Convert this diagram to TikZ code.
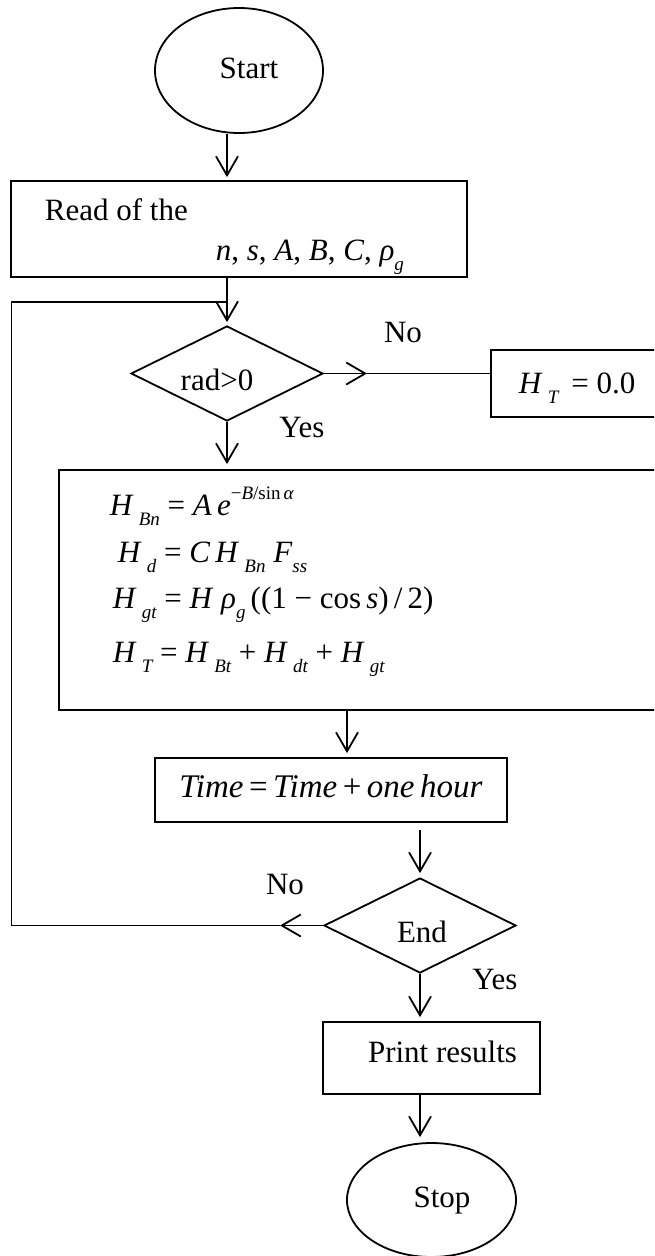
\documentclass[tikz,border=0pt]{standalone}
\usepackage{fontspec}
\setmainfont{Liberation Serif}
\usetikzlibrary{arrows.meta,shapes.geometric,calc}
\newcommand{\iv}[1]{\textit{#1}}
\newcommand{\lsub}[1]{\raisebox{-0.33em}{\fontsize{19}{19}\selectfont\itshape #1}}
\newcommand{\lsup}[1]{\raisebox{0.5em}{\fontsize{19}{19}\selectfont #1}}
\begin{document}
\begin{tikzpicture}[x=1pt,y=-1pt,line width=1.8pt,
  arr/.style={-{Straight Barb[length=19pt,width=22pt]}},
  box/.style={draw,rectangle,inner sep=0},
  oval/.style={draw,ellipse,inner sep=0},
  dia/.style={draw,diamond,aspect=2,inner sep=0,minimum width=192pt,minimum height=95pt},
  txt/.style={inner sep=0,font=\fontsize{31}{31}\selectfont},
  eq/.style={inner sep=0,anchor=base west,font=\fontsize{31}{31}\selectfont}]
\useasboundingbox (0,0) rectangle (654,1256);
\clip (0,0) rectangle (654,1256);
% shapes
\node[oval,minimum width=168pt,minimum height=125pt] (start) at (239,70.5) {};
\node[box,minimum width=456pt,minimum height=96pt] (read) at (239,229) {};
\node[dia] (rad) at (227,373.5) {};
\node[box,minimum width=209pt,minimum height=67pt] (ht) at (595.5,383.5) {};
\node[box,minimum width=641pt,minimum height=240pt] (big) at (379.5,590) {};
\node[box,minimum width=352pt,minimum height=64pt] (time) at (331,790) {};
\node[dia] (end) at (420,925.5) {};
\node[box,minimum width=217pt,minimum height=72pt] (print) at (431.5,1058) {};
\node[oval,minimum width=169pt,minimum height=114pt] (stop) at (431.5,1200) {};
% texts
\node[txt,anchor=base] (tstart) at (249,78) {Start};
\node[txt,anchor=base west] (tread) at (44,220) {Read of the};
\node[txt,anchor=base west] (tvars) at (215,260) {\iv{n}, \iv{s}, \iv{A}, \iv{B}, \iv{C}, \iv{ρ}\lsub{g}};
\node[txt,anchor=base] (trad) at (217,390) {rad>0};
\node[txt,anchor=base] (tno1) at (403,342) {No};
\node[txt,anchor=base] (tyes1) at (302,437) {Yes};
\node[eq] (tht) at (518,393) {\iv{H}\,\lsub{T}\ \,= 0.0};
\node[eq] (e1) at (109,515) {\iv{H}\,\lsub{Bn}\ = \iv{A\,e}\lsup{−\iv{B}/sin\,\iv{α}}};
\node[eq] (e2) at (117,562) {\iv{H}\,\lsub{d}\ = \iv{C}\,\iv{H}\,\lsub{Bn}\ \iv{F}\lsub{ss}};
\node[eq] (e3) at (112,608) {\iv{H}\,\lsub{gt}\ = \iv{H}\ \iv{ρ}\lsub{g}\,((1 − cos\,\iv{s})\,/\,2)};
\node[eq] (e4) at (112,662) {\iv{H}\,\lsub{T}\ = \iv{H}\,\lsub{Bt} + \iv{H}\,\lsub{dt} + \iv{H}\,\lsub{gt}};
\node[txt,anchor=base,font=\fontsize{33}{33}\selectfont] (ttime) at (331,797) {\iv{Time}\,=\,\iv{Time}\,+\,\iv{one}\,\iv{hour}};
\node[txt,anchor=base] (tno2) at (285,894) {No};
\node[txt,anchor=base] (tend) at (422,942) {End};
\node[txt,anchor=base] (tyes2) at (495,989) {Yes};
\node[txt,anchor=base] (tprint) at (442.5,1062) {Print results};
\node[txt,anchor=base] (tstop) at (442,1207) {Stop};
% connectors
\coordinate (hd1) at (367,373.5);
\coordinate (hd2) at (280,925.5);
\coordinate (lpb) at (11.5,925.5);
\coordinate (lpt) at (11.5,302);
\draw[arr,shorten >=3pt] (start.south -| rad.north) -- (read.north -| rad.north);
\draw[arr,shorten >=3pt] (read.south -| rad.north) -- (rad.north);
\draw[arr] (rad.east) -- (hd1);
\draw (hd1) -- (ht.west |- rad.east);
\draw[arr,shorten >=5pt] (rad.south) -- (big.north -| rad.south);
\draw[arr,shorten >=4pt] ([xshift=-32.5pt]big.south) -- ([xshift=16pt]time.north);
\draw[arr,shorten <=7pt,shorten >=4pt] (end.north |- time.south) -- (end.north);
\draw[arr] (end.west) -- (hd2);
\draw (hd2) -- (lpb) -- (lpt) -- (lpt -| rad.north);
\draw[arr,shorten >=4pt] (end.south) -- (print.north -| end.south);
\draw[arr,shorten >=5pt] (print.south -| end.south) -- (stop.north -| end.south);
\end{tikzpicture}
\end{document}
